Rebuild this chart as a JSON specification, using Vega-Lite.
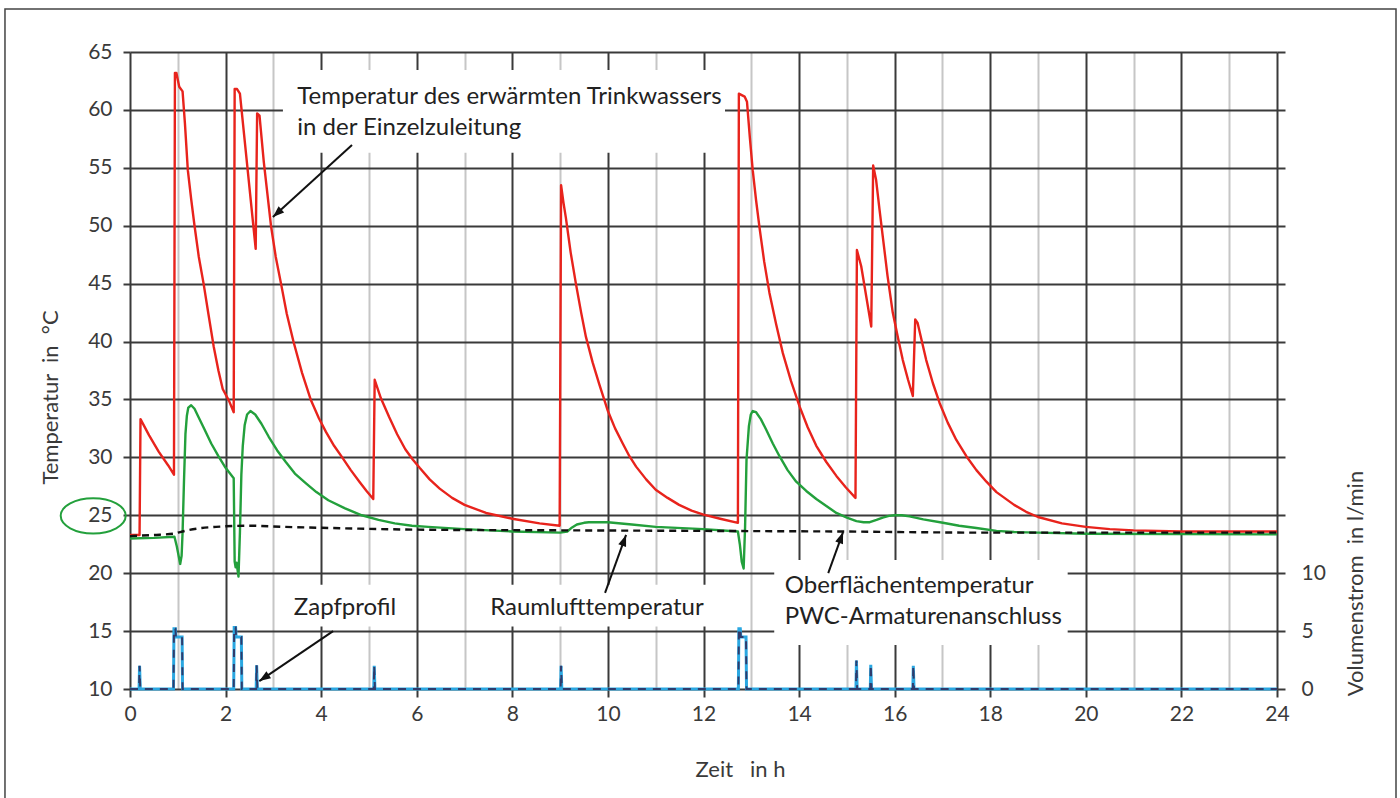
{
  "$schema": "https://vega.github.io/schema/vega-lite/v6.json",
  "width": 1147,
  "height": 637,
  "autosize": {"type": "none"},
  "padding": {"left": 130, "top": 52, "right": 123, "bottom": 109},
  "background": "white",
  "config": {"view": {"stroke": null}, "font": "Lato"},
  "datasets": {
    "trinkwasser": [
      {"h":0,"T":23.3},{"h":0.2,"T":23.3},{"h":0.22,"T":33.3},{"h":0.4,"T":31.9},{"h":0.6,"T":30.5},{"h":0.8,"T":29.3},{"h":0.92,"T":28.5},
      {"h":0.94,"T":63.2},{"h":0.97,"T":63.2},{"h":1.03,"T":62.0},{"h":1.1,"T":61.6},{"h":1.15,"T":58.8},{"h":1.21,"T":54.8},{"h":1.28,"T":52.3},{"h":1.35,"T":50.0},
      {"h":1.44,"T":47.3},{"h":1.54,"T":45.0},{"h":1.64,"T":42.4},{"h":1.75,"T":39.6},{"h":1.85,"T":37.5},{"h":1.94,"T":35.9},{"h":2.07,"T":34.9},{"h":2.17,"T":33.9},
      {"h":2.19,"T":61.8},{"h":2.24,"T":61.8},{"h":2.3,"T":61.4},{"h":2.63,"T":48.0},{"h":2.66,"T":59.7},{"h":2.71,"T":59.5},{"h":2.8,"T":55.5},
      {"h":2.95,"T":50.0},{"h":3.05,"T":47.3},{"h":3.16,"T":45.0},{"h":3.28,"T":42.4},{"h":3.42,"T":40.0},{"h":3.6,"T":37.3},{"h":3.78,"T":35.0},{"h":3.95,"T":33.4},
      {"h":4.1,"T":32.2},{"h":4.27,"T":31.0},{"h":4.44,"T":30.0},{"h":4.62,"T":28.9},{"h":4.8,"T":27.9},{"h":4.95,"T":27.1},{"h":5.09,"T":26.4},
      {"h":5.12,"T":36.7},{"h":5.25,"T":35.1},{"h":5.42,"T":33.5},{"h":5.59,"T":32.0},{"h":5.76,"T":30.7},{"h":5.92,"T":29.8},{"h":6.06,"T":29.1},{"h":6.27,"T":28.1},
      {"h":6.48,"T":27.3},{"h":6.74,"T":26.5},{"h":7.0,"T":25.9},{"h":7.45,"T":25.2},{"h":8.0,"T":24.7},{"h":8.57,"T":24.3},{"h":8.99,"T":24.1},
      {"h":9.02,"T":53.5},{"h":9.07,"T":52.0},{"h":9.12,"T":50.7},{"h":9.22,"T":47.7},{"h":9.33,"T":45.0},{"h":9.44,"T":42.5},{"h":9.54,"T":40.4},{"h":9.68,"T":38.2},
      {"h":9.82,"T":36.3},{"h":10.0,"T":34.0},{"h":10.15,"T":32.5},{"h":10.31,"T":31.2},{"h":10.45,"T":30.1},{"h":10.59,"T":29.2},{"h":10.8,"T":28.1},{"h":11.0,"T":27.2},
      {"h":11.25,"T":26.5},{"h":11.49,"T":25.9},{"h":11.75,"T":25.4},{"h":12.0,"T":25.05},{"h":12.35,"T":24.7},{"h":12.72,"T":24.35},
      {"h":12.74,"T":61.4},{"h":12.86,"T":61.15},{"h":12.91,"T":60.7},{"h":12.97,"T":57.6},{"h":13.03,"T":54.8},{"h":13.1,"T":52.2},{"h":13.17,"T":49.9},{"h":13.27,"T":46.9},
      {"h":13.38,"T":44.2},{"h":13.52,"T":41.5},{"h":13.66,"T":39.0},{"h":13.83,"T":36.6},{"h":14.01,"T":34.4},{"h":14.18,"T":32.6},{"h":14.36,"T":31.0},{"h":14.57,"T":29.6},
      {"h":14.78,"T":28.4},{"h":14.98,"T":27.4},{"h":15.18,"T":26.5},
      {"h":15.21,"T":47.9},{"h":15.3,"T":46.5},{"h":15.51,"T":41.3},{"h":15.55,"T":55.2},{"h":15.61,"T":54.0},{"h":15.68,"T":51.5},{"h":15.75,"T":49.1},{"h":15.85,"T":45.7},
      {"h":15.96,"T":42.5},{"h":16.07,"T":40.3},{"h":16.17,"T":38.4},{"h":16.28,"T":36.7},{"h":16.38,"T":35.3},
      {"h":16.43,"T":41.9},{"h":16.48,"T":41.6},{"h":16.57,"T":40.0},{"h":16.66,"T":38.4},{"h":16.8,"T":36.4},{"h":16.94,"T":34.7},{"h":17.11,"T":33.0},{"h":17.29,"T":31.5},
      {"h":17.5,"T":30.1},{"h":17.71,"T":28.9},{"h":17.92,"T":27.9},{"h":18.13,"T":27.0},{"h":18.5,"T":25.9},{"h":18.75,"T":25.3},{"h":19.0,"T":24.85},{"h":19.5,"T":24.3},
      {"h":20.0,"T":24.0},{"h":20.5,"T":23.8},{"h":21.0,"T":23.7},{"h":22.0,"T":23.6},{"h":24.0,"T":23.6}
    ],
    "oberflaeche": [
      {"h":0,"T":23.0},{"h":0.5,"T":23.05},{"h":0.93,"T":23.15},{"h":0.98,"T":22.3},{"h":1.05,"T":20.8},{"h":1.08,"T":21.5},{"h":1.1,"T":23.5},{"h":1.13,"T":28.0},
      {"h":1.16,"T":32.0},{"h":1.19,"T":33.6},{"h":1.22,"T":34.3},{"h":1.28,"T":34.5},{"h":1.35,"T":34.2},{"h":1.42,"T":33.6},{"h":1.55,"T":32.5},{"h":1.7,"T":31.2},
      {"h":1.85,"T":30.1},{"h":2.0,"T":29.1},{"h":2.17,"T":28.2},
      {"h":2.19,"T":21.0},{"h":2.21,"T":20.5},{"h":2.23,"T":20.9},{"h":2.27,"T":19.7},{"h":2.3,"T":23.5},{"h":2.33,"T":28.5},{"h":2.36,"T":31.0},{"h":2.4,"T":32.8},
      {"h":2.45,"T":33.7},{"h":2.52,"T":34.0},{"h":2.62,"T":33.7},{"h":2.75,"T":32.9},{"h":2.9,"T":31.8},{"h":3.08,"T":30.6},{"h":3.26,"T":29.6},{"h":3.45,"T":28.6},
      {"h":3.67,"T":27.8},{"h":3.9,"T":27.0},{"h":4.15,"T":26.3},{"h":4.5,"T":25.6},{"h":4.85,"T":25.0},{"h":5.2,"T":24.6},{"h":5.54,"T":24.3},{"h":5.9,"T":24.1},
      {"h":6.24,"T":24.0},{"h":7.0,"T":23.8},{"h":8.0,"T":23.6},{"h":9.0,"T":23.5},{"h":9.15,"T":23.6},{"h":9.25,"T":23.95},{"h":9.35,"T":24.2},{"h":9.5,"T":24.35},
      {"h":9.6,"T":24.4},{"h":10.0,"T":24.4},{"h":10.5,"T":24.2},{"h":11.0,"T":24.0},{"h":12.0,"T":23.8},{"h":12.72,"T":23.6},{"h":12.76,"T":22.5},{"h":12.8,"T":21.0},
      {"h":12.84,"T":20.4},{"h":12.87,"T":24.0},{"h":12.9,"T":29.8},{"h":12.95,"T":32.7},{"h":12.99,"T":33.7},{"h":13.03,"T":34.0},{"h":13.1,"T":33.9},{"h":13.2,"T":33.3},
      {"h":13.31,"T":32.4},{"h":13.45,"T":31.2},{"h":13.59,"T":30.1},{"h":13.76,"T":28.9},{"h":13.94,"T":27.9},{"h":14.15,"T":27.1},{"h":14.36,"T":26.4},{"h":14.57,"T":25.8},
      {"h":14.78,"T":25.2},{"h":15.0,"T":24.8},{"h":15.2,"T":24.5},{"h":15.35,"T":24.4},{"h":15.48,"T":24.4},{"h":15.62,"T":24.6},{"h":15.75,"T":24.8},{"h":15.88,"T":24.95},
      {"h":16.0,"T":25.0},{"h":16.15,"T":25.0},{"h":16.31,"T":24.9},{"h":16.6,"T":24.65},{"h":17.01,"T":24.35},{"h":17.35,"T":24.1},{"h":17.71,"T":23.9},{"h":18.13,"T":23.65},
      {"h":18.5,"T":23.55},{"h":19.0,"T":23.5},{"h":20.0,"T":23.4},{"h":24.0,"T":23.35}
    ],
    "raumluft": [
      {"h":0,"T":23.2},{"h":0.5,"T":23.3},{"h":0.9,"T":23.4},{"h":1.05,"T":23.55},{"h":1.2,"T":23.7},{"h":1.5,"T":23.9},{"h":1.8,"T":24.0},{"h":2.5,"T":24.1},
      {"h":3.2,"T":24.0},{"h":4.2,"T":23.9},{"h":6.2,"T":23.75},{"h":9.0,"T":23.7},{"h":12.0,"T":23.65},{"h":14.8,"T":23.6},{"h":18.0,"T":23.5},{"h":24.0,"T":23.5}
    ],
    "zapf": [
      {"h":0,"V":0},{"h":0.19,"V":0},{"h":0.2,"V":2.0},{"h":0.215,"V":0},
      {"h":0.91,"V":0},{"h":0.92,"V":5.2},{"h":0.95,"V":5.2},{"h":0.96,"V":4.5},{"h":1.09,"V":4.5},{"h":1.1,"V":0},
      {"h":2.17,"V":0},{"h":2.18,"V":5.3},{"h":2.21,"V":5.3},{"h":2.22,"V":4.5},{"h":2.33,"V":4.5},{"h":2.34,"V":0},
      {"h":2.64,"V":0},{"h":2.65,"V":2.05},{"h":2.665,"V":0},
      {"h":5.1,"V":0},{"h":5.11,"V":2.0},{"h":5.125,"V":0},
      {"h":9.01,"V":0},{"h":9.02,"V":2.0},{"h":9.035,"V":0},
      {"h":12.73,"V":0},{"h":12.74,"V":5.2},{"h":12.77,"V":5.2},{"h":12.78,"V":4.5},{"h":12.89,"V":4.5},{"h":12.9,"V":0},
      {"h":15.19,"V":0},{"h":15.2,"V":2.45},{"h":15.215,"V":0},
      {"h":15.49,"V":0},{"h":15.5,"V":2.1},{"h":15.515,"V":0},
      {"h":16.38,"V":0},{"h":16.39,"V":2.0},{"h":16.405,"V":0},
      {"h":24,"V":0}
    ],
    "boxes": [
      {"h1":3.2,"h2":12.45,"T1":56.3,"T2":63.45},
      {"h1":3.2,"h2":5.9,"T1":15.4,"T2":19.0},
      {"h1":7.43,"h2":12.14,"T1":15.4,"T2":19.0},
      {"h1":13.48,"h2":19.62,"T1":13.8,"T2":21.13}
    ],
    "labels": [
      {"h":3.5,"T":61.1,"text":"Temperatur des erwärmten Trinkwassers","al":"left"},
      {"h":3.5,"T":58.4,"text":"in der Einzelzuleitung","al":"left"},
      {"h":4.5,"T":17.0,"text":"Zapfprofil","al":"center"},
      {"h":9.77,"T":17.0,"text":"Raumlufttemperatur","al":"center"},
      {"h":13.7,"T":18.9,"text":"Oberflächentemperatur","al":"left"},
      {"h":13.7,"T":16.2,"text":"PWC-Armaturenanschluss","al":"left"}
    ],
    "arrows": [
      {"h1":4.645,"T1":56.97,"h2":2.99,"T2":50.75,"dir":228},
      {"h1":4.25,"T1":15.0,"h2":2.705,"T2":10.68,"dir":236},
      {"h1":9.94,"T1":18.3,"h2":10.38,"T2":23.3,"dir":20},
      {"h1":14.61,"T1":20.0,"h2":14.92,"T2":23.55,"dir":20}
    ]
  },
  "layer": [
    {
      "layer": [
        {
          "data": {"values": [{}]},
          "mark": {"type": "rect", "fill": null, "stroke": "#444444", "strokeWidth": 1.5, "clip": false},
          "encoding": {
            "x": {
              "datum": -2.616, "type": "quantitative", "scale": {"domain": [0, 24], "nice": false, "zero": false},
              "axis": {
                "values": [0,1,2,3,4,5,6,7,8,9,10,11,12,13,14,15,16,17,18,19,20,21,22,23,24],
                "labelExpr": "datum.value % 2 === 0 ? datum.label : ''",
                "labelFlush": false,
                "grid": true,
                "gridColor": {"condition": {"test": "datum.value % 2 === 0", "value": "#3a3a3a"}, "value": "#c6c6c6"},
                "gridWidth": 2,
                "tickColor": {"condition": {"test": "datum.value % 2 === 0", "value": "#3a3a3a"}, "value": "rgba(0,0,0,0)"},
                "tickSize": 8, "tickWidth": 2, "domain": false,
                "labelFont": "Lato", "labelFontSize": 21, "labelColor": "#3a3a3a", "labelPadding": 6,
                "title": "Zeit\u00a0\u00a0\u00a0in h", "titleFont": "Lato", "titleFontSize": 22, "titleFontWeight": "normal",
                "titleColor": "#3a3a3a", "titleX": 610, "titleY": 80, "titleBaseline": "middle", "titleAlign": "center"
              }
            },
            "x2": {"datum": 26.49},
            "y": {
              "datum": 68.71, "type": "quantitative", "scale": {"domain": [10, 65], "nice": false, "zero": false},
              "axis": {
                "values": [10,15,20,25,30,35,40,45,50,55,60,65],
                "labelFlush": false,
                "grid": true, "gridColor": "#3a3a3a", "gridWidth": 2,
                "tickSize": 7, "tickWidth": 2, "tickColor": "#3a3a3a", "domain": false,
                "labelFont": "Lato", "labelFontSize": 21, "labelColor": "#3a3a3a", "labelPadding": 11,
                "title": "Temperatur\u00a0\u00a0in\u00a0\u00a0°C", "titleFont": "Lato", "titleFontSize": 22, "titleFontWeight": "normal",
                "titleColor": "#3a3a3a", "titleAngle": 270, "titleX": -80, "titleY": 345, "titleBaseline": "middle", "titleAlign": "center"
              }
            },
            "y2": {"datum": -5}
          }
        },
        {
          "data": {"name": "boxes"},
          "mark": {"type": "rect", "fill": "white", "stroke": null},
          "encoding": {
            "x": {"field": "h1", "type": "quantitative"},
            "x2": {"field": "h2"},
            "y": {"field": "T1", "type": "quantitative"},
            "y2": {"field": "T2"}
          }
        },
        {
          "data": {"name": "trinkwasser"},
          "mark": {"type": "line", "color": "#e8231c", "strokeWidth": 2.4, "strokeJoin": "round"},
          "encoding": {
            "x": {"field": "h", "type": "quantitative"},
            "y": {"field": "T", "type": "quantitative"}
          }
        },
        {
          "data": {"name": "oberflaeche"},
          "mark": {"type": "line", "color": "#23a03c", "strokeWidth": 2.4, "strokeJoin": "round"},
          "encoding": {
            "x": {"field": "h", "type": "quantitative"},
            "y": {"field": "T", "type": "quantitative"}
          }
        },
        {
          "data": {"name": "raumluft"},
          "mark": {"type": "line", "color": "#111111", "strokeWidth": 2.4, "strokeDash": [7, 5], "interpolate": "monotone"},
          "encoding": {
            "x": {"field": "h", "type": "quantitative"},
            "y": {"field": "T", "type": "quantitative"}
          }
        },
        {
          "data": {"values": [{}]},
          "mark": {"type": "point", "shape": "M-1,0 A1,0.54 0 1,0 1,0 A1,0.54 0 1,0 -1,0 Z", "filled": false, "stroke": "#23a03c", "strokeWidth": 2, "size": 4225, "opacity": 1, "clip": false},
          "encoding": {
            "x": {"datum": -0.77, "type": "quantitative"},
            "y": {"datum": 24.95, "type": "quantitative"}
          }
        },
        {
          "data": {"name": "arrows"},
          "mark": {"type": "rule", "color": "#111111", "strokeWidth": 2},
          "encoding": {
            "x": {"field": "h1", "type": "quantitative"},
            "y": {"field": "T1", "type": "quantitative"},
            "x2": {"field": "h2"},
            "y2": {"field": "T2"}
          }
        },
        {
          "data": {"name": "arrows"},
          "mark": {"type": "point", "shape": "M0,0 L-0.36,1 L0.36,1 Z", "filled": true, "color": "#111111", "size": 520, "opacity": 1},
          "encoding": {
            "x": {"field": "h2", "type": "quantitative"},
            "y": {"field": "T2", "type": "quantitative"},
            "angle": {"field": "dir", "type": "quantitative", "scale": null}
          }
        },
        {
          "data": {"name": "labels"},
          "transform": [{"filter": "datum.al === 'left'"}],
          "mark": {"type": "text", "font": "Lato", "fontSize": 24, "color": "#222222", "baseline": "middle", "align": "left"},
          "encoding": {
            "x": {"field": "h", "type": "quantitative"},
            "y": {"field": "T", "type": "quantitative"},
            "text": {"field": "text"}
          }
        },
        {
          "data": {"name": "labels"},
          "transform": [{"filter": "datum.al === 'center'"}],
          "mark": {"type": "text", "font": "Lato", "fontSize": 24, "color": "#222222", "baseline": "middle", "align": "center"},
          "encoding": {
            "x": {"field": "h", "type": "quantitative"},
            "y": {"field": "T", "type": "quantitative"},
            "text": {"field": "text"}
          }
        }
      ]
    },
    {
      "data": {"name": "zapf"},
      "layer": [
        {
          "mark": {"type": "line", "color": "#2aa7e1", "strokeWidth": 3},
          "encoding": {
            "x": {"field": "h", "type": "quantitative"},
            "y": {
              "field": "V", "type": "quantitative",
              "scale": {"domain": [0, 55], "nice": false, "zero": false},
              "axis": {
                "orient": "right",
                "values": [0,5,10,15,20,25,30,35,40,45,50,55],
                "labelExpr": "datum.value <= 10 ? datum.label : ''",
                "labelFlush": false,
                "grid": false, "tickSize": 8, "tickWidth": 2, "tickColor": "#3a3a3a", "domain": false,
                "labelFont": "Lato", "labelFontSize": 21, "labelColor": "#3a3a3a", "labelPadding": 16,
                "title": "Volumenstrom\u00a0\u00a0in l/min", "titleFont": "Lato", "titleFontSize": 22, "titleFontWeight": "normal",
                "titleColor": "#3a3a3a", "titleAngle": 270, "titleX": 78, "titleY": 531, "titleBaseline": "middle", "titleAlign": "center"
              }
            }
          }
        },
        {
          "mark": {"type": "line", "color": "#2f3b6c", "strokeWidth": 2, "strokeDash": [8, 7]},
          "encoding": {
            "x": {"field": "h", "type": "quantitative"},
            "y": {"field": "V", "type": "quantitative"}
          }
        }
      ]
    }
  ],
  "resolve": {"scale": {"y": "independent"}}
}
